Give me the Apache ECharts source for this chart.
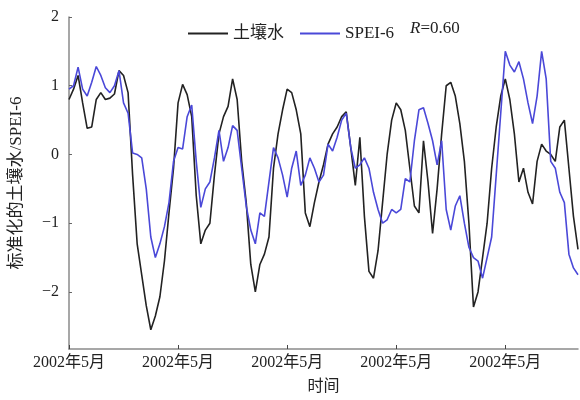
<!DOCTYPE html>
<html lang="zh">
<head>
  <meta charset="UTF-8">
  <title>土壤水与SPEI-6</title>
  <style>
    html, body { margin: 0; padding: 0; background: #fff; }
    #main { width: 580px; height: 400px; }
  </style>
  <script src="https://cdn.jsdelivr.net/npm/echarts@6/dist/echarts.min.js"></script>
</head>
<body>
  <div id="main"></div>
  <script>
    // 月序列（113个月），横轴标签每24个月一个
    var tickLabel = '2002年5月';
    var labelStep = 24;

    // 标准化的土壤水
    var soilWater = [
      0.8, 0.95, 1.15, 0.75, 0.38, 0.4, 0.8, 0.9, 0.8, 0.82,
      0.88, 1.22, 1.15, 0.9, -0.3, -1.3, -1.75, -2.2, -2.55, -2.35,
      -2.07, -1.55, -0.85, -0.2, 0.75, 1.02, 0.87, 0.55, -0.6, -1.3,
      -1.1, -1.0, -0.3, 0.3, 0.55, 0.7, 1.1, 0.8, -0.1, -0.7,
      -1.6, -2.0, -1.6, -1.45, -1.2, -0.2, 0.3, 0.65, 0.95, 0.9,
      0.65, 0.3, -0.85, -1.05, -0.7, -0.4, -0.15, 0.15, 0.3, 0.4,
      0.55, 0.62, 0.1, -0.45, 0.25, -0.9, -1.7, -1.8, -1.4, -0.7,
      0.0, 0.5, 0.75, 0.65, 0.35, -0.2, -0.75, -0.85, 0.2, -0.4,
      -1.15, -0.5, 0.3, 1.0, 1.05, 0.85, 0.45, -0.1, -1.0, -2.22,
      -2.0, -1.5, -1.0, -0.2, 0.4, 0.85, 1.1, 0.8, 0.3, -0.4,
      -0.2, -0.55, -0.72, -0.1, 0.15, 0.05, 0.0, -0.1, 0.4, 0.5,
      -0.2, -0.9, -1.38
    ];

    // SPEI-6
    var spei6 = [
      0.95, 1.0, 1.27, 0.95, 0.85, 1.05, 1.28, 1.15, 0.97, 0.9,
      1.0, 1.22, 0.75, 0.6, 0.02, 0.0, -0.05, -0.5, -1.2, -1.5,
      -1.3, -1.05, -0.7, -0.1, 0.1, 0.08, 0.55, 0.72, -0.1, -0.77,
      -0.5, -0.4, -0.05, 0.35, -0.1, 0.1, 0.42, 0.35, -0.2, -0.75,
      -1.1, -1.3, -0.85, -0.9, -0.4, 0.1, -0.05, -0.3, -0.62, -0.2,
      0.05, -0.45, -0.3, -0.05, -0.2, -0.4, -0.3, 0.15, 0.05, 0.25,
      0.5, 0.6, 0.1, -0.2, -0.15, -0.05, -0.2, -0.55, -0.8, -1.0,
      -0.95, -0.8, -0.85, -0.8, -0.35, -0.4, 0.2, 0.65, 0.68, 0.45,
      0.2, -0.15, 0.2, -0.8, -1.1, -0.75, -0.6, -1.0, -1.35, -1.5,
      -1.55, -1.8, -1.5, -1.2, -0.3, 0.6, 1.5, 1.3, 1.2, 1.35,
      1.1, 0.75, 0.45, 0.85, 1.5, 1.1, -0.1, -0.2, -0.55, -0.7,
      -1.45, -1.65, -1.75
    ];

    var yTicks = [-2, -1, 0, 1, 2];
    var rText = '0.60';

    var months = soilWater.map(function (v, i) { return String(i); });

    var serif = '"Liberation Serif", "Noto Sans CJK SC", serif';
    var axisGray = '#8a8a8a';

    var chart = echarts.init(document.getElementById('main'));
    var option = {
      animation: false,
      backgroundColor: '#fff',
      grid: { left: 66, right: 2, top: 17, bottom: 50 },
      legend: {
        left: 183,
        top: 20,
        itemWidth: 40,
        itemHeight: 2,
        itemGap: 16,
        textStyle: { fontFamily: serif, fontSize: 17, color: '#222' },
        data: [
          { name: '土壤水', icon: 'rect' },
          { name: 'SPEI-6', icon: 'rect' }
        ]
      },
      graphic: [{
        type: 'text',
        left: 410,
        top: 20,
        style: {
          text: '{i|R}=' + rText,
          font: '17px ' + serif,
          fill: '#222',
          rich: { i: { fontStyle: 'italic', fontFamily: serif, fontSize: 17 } }
        }
      }],
      xAxis: {
        type: 'category',
        boundaryGap: false,
        data: months,
        name: '时间',
        nameLocation: 'middle',
        nameGap: 30,
        nameTextStyle: { fontFamily: serif, fontSize: 16, color: '#222' },
        axisLine: { onZero: false, lineStyle: { color: axisGray, width: 1.5 } },
        axisTick: {
          inside: true,
          length: 4,
          interval: function (i) { return i % labelStep === 0; },
          lineStyle: { color: '#444' }
        },
        axisLabel: {
          interval: function (i) { return i % labelStep === 0; },
          formatter: function () { return tickLabel; },
          fontFamily: serif,
          fontSize: 16,
          color: '#222',
          margin: 6
        },
        splitLine: { show: false }
      },
      yAxis: {
        type: 'value',
        min: -2.83,
        max: 2,
        name: '标准化的土壤水/SPEI-6',
        nameLocation: 'middle',
        nameGap: 44,
        nameTextStyle: { fontFamily: serif, fontSize: 17, color: '#222' },
        axisLine: { show: true, lineStyle: { color: axisGray, width: 1.5 } },
        axisTick: {
          show: true,
          inside: true,
          length: 3,
          customValues: yTicks,
          lineStyle: { color: '#666' }
        },
        axisLabel: {
          customValues: yTicks,
          formatter: function (v) { return v < 0 ? '\u2212' + Math.abs(v) : String(v); },
          fontFamily: serif,
          fontSize: 16,
          color: '#222',
          margin: 10
        },
        splitLine: { show: false }
      },
      series: [
        {
          name: '土壤水',
          type: 'line',
          data: soilWater,
          symbol: 'none',
          color: '#222',
          lineStyle: { width: 1.6, color: '#222' },
          z: 2
        },
        {
          name: 'SPEI-6',
          type: 'line',
          data: spei6,
          symbol: 'none',
          color: '#4a48d8',
          lineStyle: { width: 1.6, color: '#4a48d8' },
          z: 3
        }
      ]
    };
    chart.setOption(option);
  </script>
</body>
</html>
